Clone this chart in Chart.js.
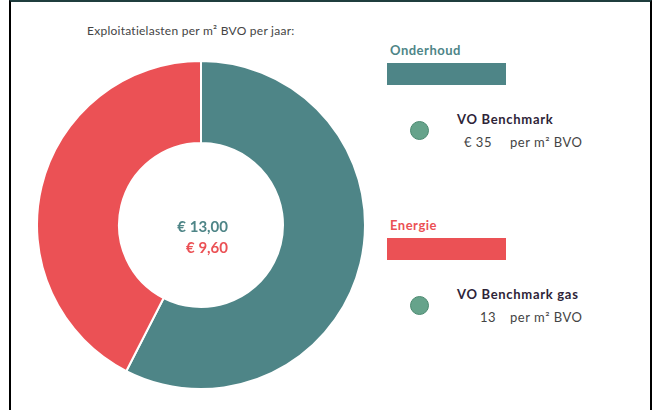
<!DOCTYPE html>
<html>
<head>
<meta charset="utf-8">
<script src="https://cdn.jsdelivr.net/npm/chart.js@4"></script>
<style>
  body { margin: 0; background: #fff; font-family: Lato, "Noto Sans", sans-serif; }
  #page { position: relative; width: 654px; height: 410px; overflow: hidden; }
  #frame { position: absolute; left: 9px; top: 0; width: 639px; height: 420px;
    border-left: 2px solid #000; border-right: 2px solid #000; border-top: 2px solid #1f3d3e; }
  #title { position: absolute; left: 87px; top: 25px; font-size: 12px; line-height: 12px;
    letter-spacing: 0.25px; color: #444; }
  #chart-wrap { position: absolute; left: 36px; top: 60px; width: 330px; height: 330px; }
  .t { position: absolute; line-height: 13px; font-size: 13px; white-space: pre; }
  .cat { font-weight: bold; letter-spacing: 0.5px; }
  .bar { position: absolute; left: 387px; width: 119px; height: 22px; }
  .dot { position: absolute; width: 17px; height: 17px; border-radius: 50%;
    background: #66a38b; border: 1px solid #4c8a71; }
  .bm { font-weight: bold; color: #2e2438; letter-spacing: 0.7px; }
  .val { color: #444; letter-spacing: 0.5px; }
</style>
</head>
<body>
<div id="page">
  <div id="frame"></div>
  <div id="title">Exploitatielasten per m² BVO per jaar:</div>
  <div id="chart-wrap"><canvas id="donut"></canvas></div>
  <div id="legend"></div>
</div>
<script>
const categories = ["Onderhoud", "Energie"];
const values = [13.00, 9.60];
const colors = ["#4e8587", "#eb5155"];
const benchmarkLabels = ["VO Benchmark", "VO Benchmark gas"];
const benchmarkValues = ["€ 35", "13"];
const benchmarkUnit = "per m² BVO";

// legend blocks on the right
const legend = document.getElementById("legend");
const blockTops = [44, 219];
const valueLefts = [464, 480];
categories.forEach((cat, i) => {
  const top = blockTops[i];
  legend.innerHTML += `
    <div class="t cat" style="left:390px;top:${top}px;color:${colors[i]}">${cat}</div>
    <div class="bar" style="top:${top + 19}px;background:${colors[i]}"></div>
    <div class="dot" style="left:410px;top:${top + 77}px"></div>
    <div class="t bm" style="left:457px;top:${top + 69}px">${benchmarkLabels[i]}</div>
    <div class="t val" style="left:${valueLefts[i]}px;top:${top + 92}px">${benchmarkValues[i]}</div>
    <div class="t val" style="left:510px;top:${top + 92}px">${benchmarkUnit}</div>
  `;
});

function euro(v) {
  return "€ " + v.toFixed(2).replace(".", ",");
}

// center labels
const centerText = {
  id: "centerText",
  afterDraw(chart) {
    const ctx = chart.ctx;
    const a = chart.chartArea;
    const cx = (a.left + a.right) / 2;
    const cy = (a.top + a.bottom) / 2;
    ctx.save();
    ctx.font = "bold 15px Lato, sans-serif";
    ctx.textAlign = "right";
    ctx.textBaseline = "alphabetic";
    values.forEach((v, i) => {
      ctx.fillStyle = colors[i];
      ctx.fillText(euro(v), cx + 27, cy + 7 + i * 21);
    });
    ctx.restore();
  },
};

new Chart(document.getElementById("donut"), {
  type: "doughnut",
  data: {
    labels: categories,
    datasets: [
      {
        data: values,
        backgroundColor: colors,
        borderColor: "#fff",
        borderWidth: 2,
      },
    ],
  },
  options: {
    responsive: true,
    maintainAspectRatio: false,
    animation: false,
    cutout: "50%",
    plugins: {
      legend: { display: false },
      tooltip: { enabled: false },
    },
  },
  plugins: [centerText],
});
</script>
</body>
</html>
